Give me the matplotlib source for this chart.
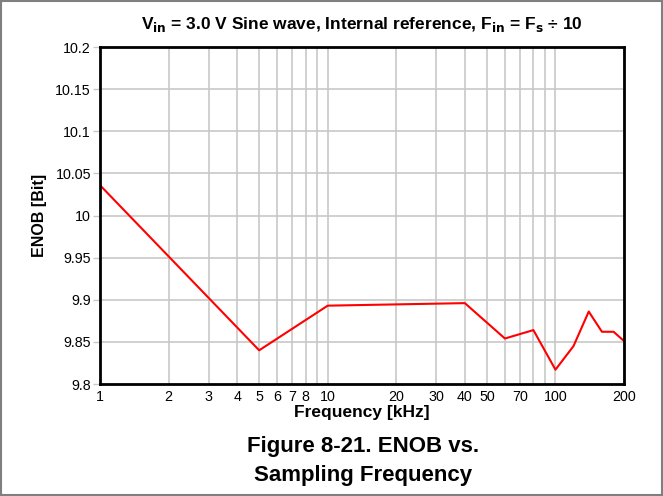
import matplotlib
matplotlib.use("Agg")
import matplotlib.pyplot as plt
import matplotlib.ticker as mticker
from matplotlib.patches import Rectangle

plt.rcParams['font.family'] = ['Liberation Sans', 'DejaVu Sans']

# datos
freq_khz = [1, 5, 10, 40, 60, 80, 100, 120, 140, 160, 180, 200]
enob = [10.036, 9.840, 9.893, 9.896, 9.854, 9.864, 9.817, 9.845, 9.886, 9.862, 9.862, 9.851]

x_ticks = [1, 2, 3, 4, 5, 6, 7, 8, 10, 20, 30, 40, 50, 70, 100, 200]
x_grid = [2, 3, 4, 5, 6, 7, 8, 9, 10, 20, 30, 40, 50, 60, 70, 80, 90, 100, 200]
y_ticks = [9.8, 9.85, 9.9, 9.95, 10.0, 10.05, 10.1, 10.15, 10.2]
y_labels = ["9.8", "9.85", "9.9", "9.95", "10", "10.05", "10.1", "10.15", "10.2"]

fig = plt.figure(figsize=(6.63, 4.96), dpi=100)
ax = fig.add_axes([0.1508, 0.2258, 0.7904, 0.6794])

ax.set_xscale("log")
ax.set_xlim(1, 200)
ax.set_ylim(9.8, 10.2)

for g in x_grid:
    ax.axvline(g, color="#c8c8c8", lw=1.2, zorder=1)
for v in y_ticks[1:-1]:
    ax.axhline(v, color="#c8c8c8", lw=1.2, zorder=1)

ax.plot(freq_khz, enob, color="red", lw=1.5, zorder=3)

ax.xaxis.set_major_locator(mticker.FixedLocator(x_ticks))
ax.xaxis.set_major_formatter(mticker.FixedFormatter([str(t) for t in x_ticks]))
ax.xaxis.set_minor_locator(mticker.NullLocator())
ax.set_yticks(y_ticks)
ax.set_yticklabels(y_labels)
ax.tick_params(axis="x", length=0, pad=4, labelsize=10.3)
ax.tick_params(axis="y", length=5, width=1, color="#c8c8c8", pad=1.5, labelsize=10.3)

for s in ax.spines.values():
    s.set_linewidth(2)
    s.set_color("black")
    s.set_zorder(4)

ax.set_xlabel("Frequency [kHz]", fontweight="bold", fontsize=12.5, labelpad=1)
ax.set_ylabel("ENOB [Bit]", fontweight="bold", fontsize=11.5, labelpad=6)
ax.set_title(r"V$_{\mathbf{in}}$ = 3.0 V Sine wave, Internal reference, F$_{\mathbf{in}}$ = F$_{\mathbf{s}}$ ÷ 10",
             fontweight="bold", fontsize=12.5, pad=13)

fig.text(0.547, 0.071, "Figure 8-21. ENOB vs.\nSampling Frequency", ha="center", va="center",
         fontsize=16, fontweight="bold", linespacing=1.5)

fig.patches.append(Rectangle((0.002, 0.002), 0.996, 0.996, transform=fig.transFigure,
                             fill=False, edgecolor="#7f7f7f", lw=1.5))

fig.savefig("out.png", dpi=100)
